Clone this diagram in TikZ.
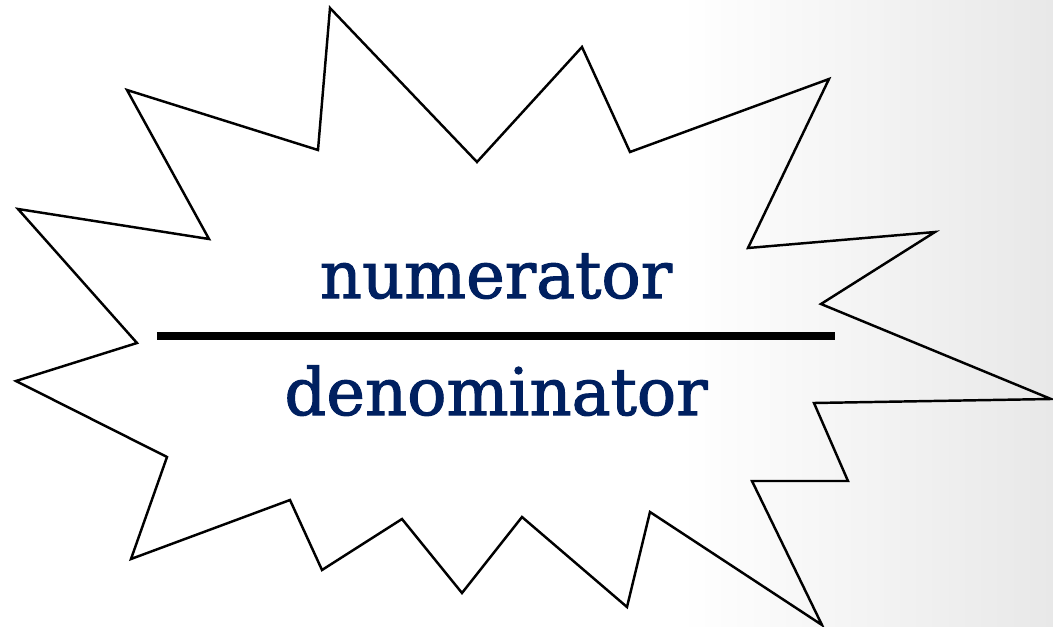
\documentclass[tikz,border=0pt]{standalone}
\usepackage{fontspec}
\newfontfamily\fracfont[FakeBold=1.6]{DejaVu Serif}
\usepackage{tikz}
\usetikzlibrary{positioning,calc}
\definecolor{fracblue}{RGB}{0,32,96}

\begin{document}
\begin{tikzpicture}[
    x=0.01cm, y=-0.01cm,
    burst/.style={draw=black, line width=0.7pt, line join=miter},
    fracword/.style={font=\fracfont\fontsize{18.6}{22}\selectfont, text=fracblue, inner sep=0pt, anchor=base},
    barline/.style={line width=2pt, black}
  ]
    % page and soft grey shading on the right
    \fill[white] (0,0) rectangle (1053,627);
    \shade[left color=white, right color=black!9] (680,0) rectangle (1053,627);
    \useasboundingbox (0,0) rectangle (1053,627);

    % the burst outline
    \draw[burst] (330,8) -- (477,162) -- (582,47) -- (630,152) -- (829,79)
      -- (748,248) -- (935,232) -- (821,304) -- (1051,399) -- (814,403)
      -- (848,481) -- (752,481) -- (822,625) -- (650,512) -- (627,607)
      -- (522,517) -- (462,593) -- (402,519) -- (322,570) -- (290,500)
      -- (131,559) -- (167,457) -- (16,381) -- (137,343) -- (18,209)
      -- (209,239) -- (127,90) -- (318,150) -- cycle;

    % the fraction
    \coordinate (bar_l) at (157,336);
    \coordinate (bar_r) at (835,336);
    \draw[barline] (bar_l) -- (bar_r);
    \node[fracword] (num) at (496,298) {numerator};
    \node[fracword] (den) at (496,415) {denominator};
  \end{tikzpicture}
\end{document}
